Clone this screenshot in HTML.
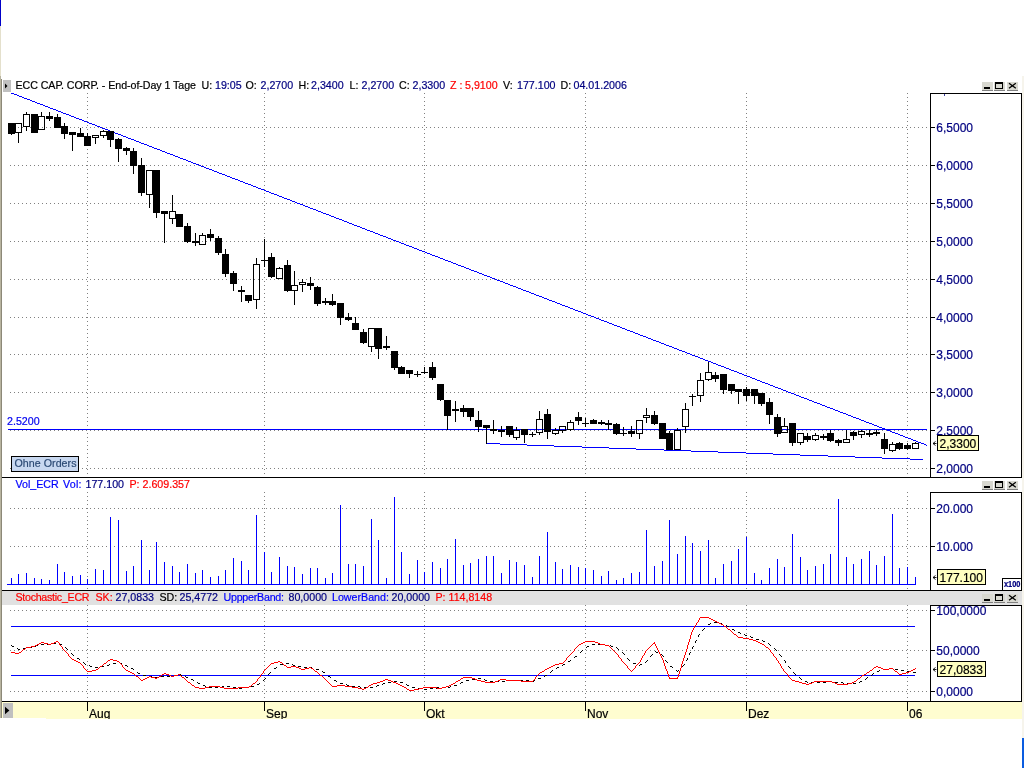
<!DOCTYPE html>
<html lang="de"><head><meta charset="utf-8"><title>ECC CAP. CORP. Chart</title>
<style>
html,body{margin:0;padding:0;background:#fff;width:1024px;height:768px;overflow:hidden}
svg{display:block;font-family:"Liberation Sans", Arial, sans-serif;}
text{white-space:pre;stroke:currentColor;stroke-width:0.2px}
</style></head><body>
<svg width="1024" height="768" viewBox="0 0 1024 768">
<rect x="0" y="0" width="1024" height="768" fill="#fff" />
<rect x="0" y="0" width="1" height="26" fill="#0000c8" />
<rect x="0" y="26" width="1" height="50" fill="#e4e0cc" />
<rect x="0" y="76" width="1" height="642" fill="#b8b4a0" />
<rect x="1" y="79" width="1" height="639" fill="#8c8878" />
<rect x="1022" y="76" width="2" height="662" fill="#f6f4ec" />
<rect x="1022" y="738" width="2" height="30" fill="#0a5ce0" />
<rect x="2" y="591" width="1020" height="14" fill="#e1e1e1" />
<rect x="2" y="702" width="1020" height="16" fill="#fffdd0" />
<rect x="46" y="718" width="976" height="1" fill="#fffdd0" />
<line x1="10" y1="127.5" x2="930" y2="127.5" stroke="#808080" stroke-width="1" stroke-dasharray="1 3"/>
<line x1="10" y1="165.5" x2="930" y2="165.5" stroke="#808080" stroke-width="1" stroke-dasharray="1 3"/>
<line x1="10" y1="203.5" x2="930" y2="203.5" stroke="#808080" stroke-width="1" stroke-dasharray="1 3"/>
<line x1="10" y1="241.5" x2="930" y2="241.5" stroke="#808080" stroke-width="1" stroke-dasharray="1 3"/>
<line x1="10" y1="279.5" x2="930" y2="279.5" stroke="#808080" stroke-width="1" stroke-dasharray="1 3"/>
<line x1="10" y1="317.5" x2="930" y2="317.5" stroke="#808080" stroke-width="1" stroke-dasharray="1 3"/>
<line x1="10" y1="354.5" x2="930" y2="354.5" stroke="#808080" stroke-width="1" stroke-dasharray="1 3"/>
<line x1="10" y1="392.5" x2="930" y2="392.5" stroke="#808080" stroke-width="1" stroke-dasharray="1 3"/>
<line x1="10" y1="430.5" x2="930" y2="430.5" stroke="#808080" stroke-width="1" stroke-dasharray="1 3"/>
<line x1="10" y1="468.5" x2="930" y2="468.5" stroke="#808080" stroke-width="1" stroke-dasharray="1 3"/>
<line x1="87.5" y1="93" x2="87.5" y2="475" stroke="#808080" stroke-width="1" stroke-dasharray="1 3"/>
<line x1="87.5" y1="492" x2="87.5" y2="589" stroke="#808080" stroke-width="1" stroke-dasharray="1 3"/>
<line x1="87.5" y1="605" x2="87.5" y2="700" stroke="#808080" stroke-width="1" stroke-dasharray="1 3"/>
<line x1="264.5" y1="93" x2="264.5" y2="475" stroke="#808080" stroke-width="1" stroke-dasharray="1 3"/>
<line x1="264.5" y1="492" x2="264.5" y2="589" stroke="#808080" stroke-width="1" stroke-dasharray="1 3"/>
<line x1="264.5" y1="605" x2="264.5" y2="700" stroke="#808080" stroke-width="1" stroke-dasharray="1 3"/>
<line x1="424.5" y1="93" x2="424.5" y2="475" stroke="#808080" stroke-width="1" stroke-dasharray="1 3"/>
<line x1="424.5" y1="492" x2="424.5" y2="589" stroke="#808080" stroke-width="1" stroke-dasharray="1 3"/>
<line x1="424.5" y1="605" x2="424.5" y2="700" stroke="#808080" stroke-width="1" stroke-dasharray="1 3"/>
<line x1="585.5" y1="93" x2="585.5" y2="475" stroke="#808080" stroke-width="1" stroke-dasharray="1 3"/>
<line x1="585.5" y1="492" x2="585.5" y2="589" stroke="#808080" stroke-width="1" stroke-dasharray="1 3"/>
<line x1="585.5" y1="605" x2="585.5" y2="700" stroke="#808080" stroke-width="1" stroke-dasharray="1 3"/>
<line x1="746.5" y1="93" x2="746.5" y2="475" stroke="#808080" stroke-width="1" stroke-dasharray="1 3"/>
<line x1="746.5" y1="492" x2="746.5" y2="589" stroke="#808080" stroke-width="1" stroke-dasharray="1 3"/>
<line x1="746.5" y1="605" x2="746.5" y2="700" stroke="#808080" stroke-width="1" stroke-dasharray="1 3"/>
<line x1="907.5" y1="93" x2="907.5" y2="475" stroke="#808080" stroke-width="1" stroke-dasharray="1 3"/>
<line x1="907.5" y1="492" x2="907.5" y2="589" stroke="#808080" stroke-width="1" stroke-dasharray="1 3"/>
<line x1="907.5" y1="605" x2="907.5" y2="700" stroke="#808080" stroke-width="1" stroke-dasharray="1 3"/>
<line x1="10" y1="508.5" x2="930" y2="508.5" stroke="#808080" stroke-width="1" stroke-dasharray="1 3"/>
<line x1="10" y1="546.5" x2="930" y2="546.5" stroke="#808080" stroke-width="1" stroke-dasharray="1 3"/>
<line x1="10" y1="610.5" x2="930" y2="610.5" stroke="#808080" stroke-width="1" stroke-dasharray="1 3"/>
<line x1="10" y1="650.5" x2="930" y2="650.5" stroke="#808080" stroke-width="1" stroke-dasharray="1 3"/>
<line x1="10" y1="691.5" x2="930" y2="691.5" stroke="#808080" stroke-width="1" stroke-dasharray="1 3"/>
<rect x="2" y="477" width="1020" height="1" fill="#000" />
<rect x="2" y="590" width="1020" height="1" fill="#000" />
<rect x="2" y="701" width="1020" height="1" fill="#000" />
<rect x="930" y="93" width="1" height="384" fill="#000" />
<rect x="1021" y="93" width="1" height="385" fill="#000" />
<rect x="930" y="93" width="92" height="1" fill="#000" />
<rect x="930" y="492" width="1" height="98" fill="#000" />
<rect x="1021" y="492" width="1" height="99" fill="#000" />
<rect x="930" y="492" width="92" height="1" fill="#000" />
<rect x="930" y="605" width="1" height="96" fill="#000" />
<rect x="1021" y="605" width="1" height="97" fill="#000" />
<rect x="930" y="605" width="92" height="1" fill="#000" />
<path d="M11 93h3v1h-3zM14 94h3v1h-3zM17 95h2v1h-2zM19 96h3v1h-3zM22 97h2v1h-2zM24 98h3v1h-3zM27 99h3v1h-3zM30 100h2v1h-2zM32 101h3v1h-3zM35 102h2v1h-2zM37 103h3v1h-3zM40 104h3v1h-3zM43 105h2v1h-2zM45 106h3v1h-3zM48 107h2v1h-2zM50 108h3v1h-3zM53 109h3v1h-3zM56 110h2v1h-2zM58 111h3v1h-3zM61 112h2v1h-2zM63 113h3v1h-3zM66 114h3v1h-3zM69 115h2v1h-2zM71 116h3v1h-3zM74 117h2v1h-2zM76 118h3v1h-3zM79 119h3v1h-3zM82 120h2v1h-2zM84 121h3v1h-3zM87 122h2v1h-2zM89 123h3v1h-3zM92 124h3v1h-3zM95 125h2v1h-2zM97 126h3v1h-3zM100 127h2v1h-2zM102 128h3v1h-3zM105 129h3v1h-3zM108 130h2v1h-2zM110 131h3v1h-3zM113 132h2v1h-2zM115 133h3v1h-3zM118 134h3v1h-3zM121 135h2v1h-2zM123 136h3v1h-3zM126 137h2v1h-2zM128 138h3v1h-3zM131 139h3v1h-3zM134 140h2v1h-2zM136 141h3v1h-3zM139 142h2v1h-2zM141 143h3v1h-3zM144 144h3v1h-3zM147 145h2v1h-2zM149 146h3v1h-3zM152 147h2v1h-2zM154 148h3v1h-3zM157 149h3v1h-3zM160 150h2v1h-2zM162 151h3v1h-3zM165 152h2v1h-2zM167 153h3v1h-3zM170 154h3v1h-3zM173 155h2v1h-2zM175 156h3v1h-3zM178 157h2v1h-2zM180 158h3v1h-3zM183 159h3v1h-3zM186 160h2v1h-2zM188 161h3v1h-3zM191 162h2v1h-2zM193 163h3v1h-3zM196 164h3v1h-3zM199 165h2v1h-2zM201 166h3v1h-3zM204 167h2v1h-2zM206 168h3v1h-3zM209 169h3v1h-3zM212 170h2v1h-2zM214 171h3v1h-3zM217 172h2v1h-2zM219 173h3v1h-3zM222 174h3v1h-3zM225 175h2v1h-2zM227 176h3v1h-3zM230 177h2v1h-2zM232 178h3v1h-3zM235 179h3v1h-3zM238 180h2v1h-2zM240 181h3v1h-3zM243 182h2v1h-2zM245 183h3v1h-3zM248 184h3v1h-3zM251 185h2v1h-2zM253 186h3v1h-3zM256 187h2v1h-2zM258 188h3v1h-3zM261 189h3v1h-3zM264 190h2v1h-2zM266 191h3v1h-3zM269 192h2v1h-2zM271 193h3v1h-3zM274 194h3v1h-3zM277 195h2v1h-2zM279 196h3v1h-3zM282 197h2v1h-2zM284 198h3v1h-3zM287 199h3v1h-3zM290 200h2v1h-2zM292 201h3v1h-3zM295 202h2v1h-2zM297 203h3v1h-3zM300 204h3v1h-3zM303 205h2v1h-2zM305 206h3v1h-3zM308 207h2v1h-2zM310 208h3v1h-3zM313 209h3v1h-3zM316 210h2v1h-2zM318 211h3v1h-3zM321 212h2v1h-2zM323 213h3v1h-3zM326 214h3v1h-3zM329 215h2v1h-2zM331 216h3v1h-3zM334 217h2v1h-2zM336 218h3v1h-3zM339 219h3v1h-3zM342 220h2v1h-2zM344 221h3v1h-3zM347 222h2v1h-2zM349 223h3v1h-3zM352 224h2v1h-2zM354 225h3v1h-3zM357 226h3v1h-3zM360 227h2v1h-2zM362 228h3v1h-3zM365 229h2v1h-2zM367 230h3v1h-3zM370 231h3v1h-3zM373 232h2v1h-2zM375 233h3v1h-3zM378 234h2v1h-2zM380 235h3v1h-3zM383 236h3v1h-3zM386 237h2v1h-2zM388 238h3v1h-3zM391 239h2v1h-2zM393 240h3v1h-3zM396 241h3v1h-3zM399 242h2v1h-2zM401 243h3v1h-3zM404 244h2v1h-2zM406 245h3v1h-3zM409 246h3v1h-3zM412 247h2v1h-2zM414 248h3v1h-3zM417 249h2v1h-2zM419 250h3v1h-3zM422 251h3v1h-3zM425 252h2v1h-2zM427 253h3v1h-3zM430 254h2v1h-2zM432 255h3v1h-3zM435 256h3v1h-3zM438 257h2v1h-2zM440 258h3v1h-3zM443 259h2v1h-2zM445 260h3v1h-3zM448 261h3v1h-3zM451 262h2v1h-2zM453 263h3v1h-3zM456 264h2v1h-2zM458 265h3v1h-3zM461 266h3v1h-3zM464 267h2v1h-2zM466 268h3v1h-3zM469 269h2v1h-2zM471 270h3v1h-3zM474 271h3v1h-3zM477 272h2v1h-2zM479 273h3v1h-3zM482 274h2v1h-2zM484 275h3v1h-3zM487 276h3v1h-3zM490 277h2v1h-2zM492 278h3v1h-3zM495 279h2v1h-2zM497 280h3v1h-3zM500 281h3v1h-3zM503 282h2v1h-2zM505 283h3v1h-3zM508 284h2v1h-2zM510 285h3v1h-3zM513 286h3v1h-3zM516 287h2v1h-2zM518 288h3v1h-3zM521 289h2v1h-2zM523 290h3v1h-3zM526 291h3v1h-3zM529 292h2v1h-2zM531 293h3v1h-3zM534 294h2v1h-2zM536 295h3v1h-3zM539 296h3v1h-3zM542 297h2v1h-2zM544 298h3v1h-3zM547 299h2v1h-2zM549 300h3v1h-3zM552 301h3v1h-3zM555 302h2v1h-2zM557 303h3v1h-3zM560 304h2v1h-2zM562 305h3v1h-3zM565 306h3v1h-3zM568 307h2v1h-2zM570 308h3v1h-3zM573 309h2v1h-2zM575 310h3v1h-3zM578 311h3v1h-3zM581 312h2v1h-2zM583 313h3v1h-3zM586 314h2v1h-2zM588 315h3v1h-3zM591 316h3v1h-3zM594 317h2v1h-2zM596 318h3v1h-3zM599 319h2v1h-2zM601 320h3v1h-3zM604 321h3v1h-3zM607 322h2v1h-2zM609 323h3v1h-3zM612 324h2v1h-2zM614 325h3v1h-3zM617 326h3v1h-3zM620 327h2v1h-2zM622 328h3v1h-3zM625 329h2v1h-2zM627 330h3v1h-3zM630 331h3v1h-3zM633 332h2v1h-2zM635 333h3v1h-3zM638 334h2v1h-2zM640 335h3v1h-3zM643 336h3v1h-3zM646 337h2v1h-2zM648 338h3v1h-3zM651 339h2v1h-2zM653 340h3v1h-3zM656 341h3v1h-3zM659 342h2v1h-2zM661 343h3v1h-3zM664 344h2v1h-2zM666 345h3v1h-3zM669 346h3v1h-3zM672 347h2v1h-2zM674 348h3v1h-3zM677 349h2v1h-2zM679 350h3v1h-3zM682 351h3v1h-3zM685 352h2v1h-2zM687 353h3v1h-3zM690 354h2v1h-2zM692 355h3v1h-3zM695 356h3v1h-3zM698 357h2v1h-2zM700 358h3v1h-3zM703 359h2v1h-2zM705 360h3v1h-3zM708 361h3v1h-3zM711 362h2v1h-2zM713 363h3v1h-3zM716 364h2v1h-2zM718 365h3v1h-3zM721 366h3v1h-3zM724 367h2v1h-2zM726 368h3v1h-3zM729 369h2v1h-2zM731 370h3v1h-3zM734 371h3v1h-3zM737 372h2v1h-2zM739 373h3v1h-3zM742 374h2v1h-2zM744 375h3v1h-3zM747 376h3v1h-3zM750 377h2v1h-2zM752 378h3v1h-3zM755 379h2v1h-2zM757 380h3v1h-3zM760 381h2v1h-2zM762 382h3v1h-3zM765 383h3v1h-3zM768 384h2v1h-2zM770 385h3v1h-3zM773 386h2v1h-2zM775 387h3v1h-3zM778 388h3v1h-3zM781 389h2v1h-2zM783 390h3v1h-3zM786 391h2v1h-2zM788 392h3v1h-3zM791 393h3v1h-3zM794 394h2v1h-2zM796 395h3v1h-3zM799 396h2v1h-2zM801 397h3v1h-3zM804 398h3v1h-3zM807 399h2v1h-2zM809 400h3v1h-3zM812 401h2v1h-2zM814 402h3v1h-3zM817 403h3v1h-3zM820 404h2v1h-2zM822 405h3v1h-3zM825 406h2v1h-2zM827 407h3v1h-3zM830 408h3v1h-3zM833 409h2v1h-2zM835 410h3v1h-3zM838 411h2v1h-2zM840 412h3v1h-3zM843 413h3v1h-3zM846 414h2v1h-2zM848 415h3v1h-3zM851 416h2v1h-2zM853 417h3v1h-3zM856 418h3v1h-3zM859 419h2v1h-2zM861 420h3v1h-3zM864 421h2v1h-2zM866 422h3v1h-3zM869 423h3v1h-3zM872 424h2v1h-2zM874 425h3v1h-3zM877 426h2v1h-2zM879 427h3v1h-3zM882 428h3v1h-3zM885 429h2v1h-2zM887 430h3v1h-3zM890 431h2v1h-2zM892 432h3v1h-3zM895 433h3v1h-3zM898 434h2v1h-2zM900 435h3v1h-3zM903 436h2v1h-2zM905 437h3v1h-3zM908 438h3v1h-3zM911 439h2v1h-2zM913 440h3v1h-3zM916 441h2v1h-2zM918 442h3v1h-3zM921 443h3v1h-3zM924 444h2v1h-2zM926 445h1v1h-1z" fill="#0000ff" shape-rendering="crispEdges"/>
<path d="M486 443h14v1h-14zM500 444h27v1h-27zM527 445h27v1h-27zM554 446h28v1h-28zM582 447h27v1h-27zM609 448h27v1h-27zM636 449h28v1h-28zM664 450h27v1h-27zM691 451h27v1h-27zM718 452h28v1h-28zM746 453h27v1h-27zM773 454h27v1h-27zM800 455h28v1h-28zM828 456h27v1h-27zM855 457h27v1h-27zM882 458h28v1h-28zM910 459h13v1h-13z" fill="#0000ff" shape-rendering="crispEdges"/>
<rect x="8" y="429" width="919" height="1" fill="#0000ff" />
<g shape-rendering="crispEdges">
<rect x="11" y="123" width="1" height="12" fill="#000" />
<rect x="8" y="123" width="7" height="11" fill="#000" />
<rect x="18" y="133" width="1" height="10" fill="#000" />
<rect x="15.5" y="123.5" width="6" height="9" fill="none" stroke="#000" stroke-width="1"/>
<rect x="26" y="112" width="1" height="2" fill="#000" />
<rect x="26" y="127" width="1" height="4" fill="#000" />
<rect x="23.5" y="114.5" width="6" height="12" fill="none" stroke="#000" stroke-width="1"/>
<rect x="34" y="114" width="1" height="19" fill="#000" />
<rect x="31" y="114" width="7" height="19" fill="#000" />
<rect x="41" y="112" width="1" height="4" fill="#000" />
<rect x="38.5" y="116.5" width="6" height="13" fill="none" stroke="#000" stroke-width="1"/>
<rect x="49" y="112" width="1" height="9" fill="#000" />
<rect x="46" y="116" width="7" height="3" fill="#000" />
<rect x="57" y="114" width="1" height="14" fill="#000" />
<rect x="54" y="117" width="7" height="11" fill="#000" />
<rect x="64" y="123" width="1" height="16" fill="#000" />
<rect x="61" y="126" width="7" height="8" fill="#000" />
<rect x="72" y="132" width="1" height="19" fill="#000" />
<rect x="69" y="132" width="7" height="3" fill="#000" />
<rect x="80" y="128" width="1" height="9" fill="#000" />
<rect x="77" y="133" width="7" height="4" fill="#000" />
<rect x="87" y="133" width="1" height="13" fill="#000" />
<rect x="84" y="136" width="7" height="10" fill="#000" />
<rect x="95" y="138" width="1" height="6" fill="#000" />
<rect x="92.5" y="135.5" width="6" height="2" fill="none" stroke="#000" stroke-width="1"/>
<rect x="103" y="130" width="1" height="1" fill="#000" />
<rect x="103" y="136" width="1" height="2" fill="#000" />
<rect x="100.5" y="131.5" width="6" height="4" fill="none" stroke="#000" stroke-width="1"/>
<rect x="110" y="131" width="1" height="16" fill="#000" />
<rect x="107" y="131" width="7" height="9" fill="#000" />
<rect x="118" y="138" width="1" height="24" fill="#000" />
<rect x="115" y="139" width="7" height="10" fill="#000" />
<rect x="126" y="147" width="1" height="8" fill="#000" />
<rect x="123" y="148" width="7" height="3" fill="#000" />
<rect x="133" y="148" width="1" height="26" fill="#000" />
<rect x="130" y="151" width="7" height="15" fill="#000" />
<rect x="141" y="158" width="1" height="38" fill="#000" />
<rect x="138" y="165" width="7" height="28" fill="#000" />
<rect x="149" y="195" width="1" height="13" fill="#000" />
<rect x="146.5" y="170.5" width="6" height="24" fill="none" stroke="#000" stroke-width="1"/>
<rect x="156" y="170" width="1" height="48" fill="#000" />
<rect x="153" y="170" width="7" height="43" fill="#000" />
<rect x="164" y="211" width="1" height="32" fill="#000" />
<rect x="161" y="211" width="7" height="3" fill="#000" />
<rect x="172" y="195" width="1" height="16" fill="#000" />
<rect x="172" y="219" width="1" height="5" fill="#000" />
<rect x="169.5" y="211.5" width="6" height="7" fill="none" stroke="#000" stroke-width="1"/>
<rect x="179" y="214" width="1" height="13" fill="#000" />
<rect x="176" y="214" width="7" height="13" fill="#000" />
<rect x="187" y="223" width="1" height="20" fill="#000" />
<rect x="184" y="226" width="7" height="16" fill="#000" />
<rect x="195" y="233" width="1" height="13" fill="#000" />
<rect x="192" y="241" width="7" height="2" fill="#000" />
<rect x="202" y="233" width="1" height="2" fill="#000" />
<rect x="199.5" y="235.5" width="6" height="9" fill="none" stroke="#000" stroke-width="1"/>
<rect x="210" y="229" width="1" height="12" fill="#000" />
<rect x="207" y="234" width="7" height="4" fill="#000" />
<rect x="218" y="236" width="1" height="19" fill="#000" />
<rect x="215" y="238" width="7" height="15" fill="#000" />
<rect x="225" y="249" width="1" height="28" fill="#000" />
<rect x="222" y="254" width="7" height="20" fill="#000" />
<rect x="233" y="271" width="1" height="20" fill="#000" />
<rect x="230" y="273" width="7" height="11" fill="#000" />
<rect x="241" y="286" width="1" height="16" fill="#000" />
<rect x="238" y="290" width="7" height="2" fill="#000" />
<rect x="248" y="295" width="1" height="8" fill="#000" />
<rect x="245" y="295" width="7" height="6" fill="#000" />
<rect x="256" y="258" width="1" height="6" fill="#000" />
<rect x="256" y="300" width="1" height="9" fill="#000" />
<rect x="253.5" y="264.5" width="6" height="35" fill="none" stroke="#000" stroke-width="1"/>
<rect x="264" y="239" width="1" height="28" fill="#000" />
<rect x="261" y="260" width="7" height="1" fill="#000" />
<rect x="271" y="253" width="1" height="25" fill="#000" />
<rect x="268" y="257" width="7" height="20" fill="#000" />
<rect x="279" y="267" width="1" height="1" fill="#000" />
<rect x="276.5" y="268.5" width="6" height="10" fill="none" stroke="#000" stroke-width="1"/>
<rect x="287" y="260" width="1" height="32" fill="#000" />
<rect x="284" y="265" width="7" height="26" fill="#000" />
<rect x="294" y="271" width="1" height="14" fill="#000" />
<rect x="294" y="291" width="1" height="14" fill="#000" />
<rect x="291.5" y="285.5" width="6" height="5" fill="none" stroke="#000" stroke-width="1"/>
<rect x="302" y="279" width="1" height="3" fill="#000" />
<rect x="302" y="285" width="1" height="7" fill="#000" />
<rect x="299.5" y="282.5" width="6" height="2" fill="none" stroke="#000" stroke-width="1"/>
<rect x="310" y="277" width="1" height="13" fill="#000" />
<rect x="307" y="283" width="7" height="3" fill="#000" />
<rect x="317" y="286" width="1" height="20" fill="#000" />
<rect x="314" y="287" width="7" height="17" fill="#000" />
<rect x="325" y="298" width="1" height="7" fill="#000" />
<rect x="322" y="301" width="7" height="2" fill="#000" />
<rect x="332" y="294" width="1" height="12" fill="#000" />
<rect x="329" y="301" width="7" height="4" fill="#000" />
<rect x="340" y="303" width="1" height="22" fill="#000" />
<rect x="337" y="303" width="7" height="15" fill="#000" />
<rect x="348" y="313" width="1" height="8" fill="#000" />
<rect x="345" y="317" width="7" height="3" fill="#000" />
<rect x="355" y="317" width="1" height="13" fill="#000" />
<rect x="352" y="323" width="7" height="7" fill="#000" />
<rect x="363" y="329" width="1" height="15" fill="#000" />
<rect x="360" y="332" width="7" height="11" fill="#000" />
<rect x="371" y="347" width="1" height="5" fill="#000" />
<rect x="368.5" y="328.5" width="6" height="18" fill="none" stroke="#000" stroke-width="1"/>
<rect x="378" y="328" width="1" height="31" fill="#000" />
<rect x="375" y="328" width="7" height="21" fill="#000" />
<rect x="386" y="336" width="1" height="14" fill="#000" />
<rect x="383" y="346" width="7" height="2" fill="#000" />
<rect x="394" y="351" width="1" height="19" fill="#000" />
<rect x="391" y="351" width="7" height="17" fill="#000" />
<rect x="401" y="366" width="1" height="8" fill="#000" />
<rect x="398" y="367" width="7" height="7" fill="#000" />
<rect x="409" y="370" width="1" height="8" fill="#000" />
<rect x="406" y="370" width="7" height="4" fill="#000" />
<rect x="417" y="371" width="1" height="6" fill="#000" />
<rect x="414" y="374" width="7" height="1" fill="#000" />
<rect x="424" y="367" width="1" height="7" fill="#000" />
<rect x="421" y="372" width="7" height="1" fill="#000" />
<rect x="432" y="362" width="1" height="18" fill="#000" />
<rect x="429" y="367" width="7" height="11" fill="#000" />
<rect x="440" y="384" width="1" height="17" fill="#000" />
<rect x="437" y="384" width="7" height="16" fill="#000" />
<rect x="447" y="400" width="1" height="30" fill="#000" />
<rect x="444" y="400" width="7" height="16" fill="#000" />
<rect x="455" y="401" width="1" height="21" fill="#000" />
<rect x="452" y="409" width="7" height="2" fill="#000" />
<rect x="463" y="405" width="1" height="12" fill="#000" />
<rect x="460" y="408" width="7" height="4" fill="#000" />
<rect x="470" y="408" width="1" height="13" fill="#000" />
<rect x="467" y="408" width="7" height="9" fill="#000" />
<rect x="478" y="411" width="1" height="21" fill="#000" />
<rect x="475" y="420" width="7" height="7" fill="#000" />
<rect x="486" y="425" width="1" height="19" fill="#000" />
<rect x="483" y="425" width="7" height="3" fill="#000" />
<rect x="493" y="420" width="1" height="14" fill="#000" />
<rect x="490" y="429" width="7" height="2" fill="#000" />
<rect x="501" y="426" width="1" height="11" fill="#000" />
<rect x="498" y="430" width="7" height="2" fill="#000" />
<rect x="509" y="426" width="1" height="11" fill="#000" />
<rect x="506" y="426" width="7" height="9" fill="#000" />
<rect x="516" y="427" width="1" height="3" fill="#000" />
<rect x="516" y="438" width="1" height="2" fill="#000" />
<rect x="513.5" y="430.5" width="6" height="7" fill="none" stroke="#000" stroke-width="1"/>
<rect x="524" y="429" width="1" height="14" fill="#000" />
<rect x="521" y="429" width="7" height="6" fill="#000" />
<rect x="532" y="432" width="1" height="5" fill="#000" />
<rect x="529" y="434" width="7" height="1" fill="#000" />
<rect x="539" y="411" width="1" height="8" fill="#000" />
<rect x="539" y="433" width="1" height="2" fill="#000" />
<rect x="536.5" y="419.5" width="6" height="13" fill="none" stroke="#000" stroke-width="1"/>
<rect x="547" y="409" width="1" height="30" fill="#000" />
<rect x="544" y="414" width="7" height="18" fill="#000" />
<rect x="555" y="428" width="1" height="2" fill="#000" />
<rect x="555" y="434" width="1" height="1" fill="#000" />
<rect x="552.5" y="430.5" width="6" height="3" fill="none" stroke="#000" stroke-width="1"/>
<rect x="562" y="431" width="1" height="2" fill="#000" />
<rect x="559.5" y="426.5" width="6" height="4" fill="none" stroke="#000" stroke-width="1"/>
<rect x="570" y="420" width="1" height="2" fill="#000" />
<rect x="570" y="430" width="1" height="1" fill="#000" />
<rect x="567.5" y="422.5" width="6" height="7" fill="none" stroke="#000" stroke-width="1"/>
<rect x="578" y="412" width="1" height="13" fill="#000" />
<rect x="575" y="417" width="7" height="4" fill="#000" />
<rect x="585" y="418" width="1" height="9" fill="#000" />
<rect x="582" y="423" width="7" height="1" fill="#000" />
<rect x="593" y="419" width="1" height="5" fill="#000" />
<rect x="590" y="420" width="7" height="4" fill="#000" />
<rect x="601" y="420" width="1" height="5" fill="#000" />
<rect x="598" y="422" width="7" height="2" fill="#000" />
<rect x="608" y="420" width="1" height="10" fill="#000" />
<rect x="605" y="423" width="7" height="2" fill="#000" />
<rect x="616" y="423" width="1" height="12" fill="#000" />
<rect x="613" y="424" width="7" height="10" fill="#000" />
<rect x="623" y="427" width="1" height="9" fill="#000" />
<rect x="620" y="433" width="7" height="1" fill="#000" />
<rect x="631" y="426" width="1" height="11" fill="#000" />
<rect x="628" y="431" width="7" height="3" fill="#000" />
<rect x="639" y="434" width="1" height="5" fill="#000" />
<rect x="636.5" y="420.5" width="6" height="13" fill="none" stroke="#000" stroke-width="1"/>
<rect x="646" y="408" width="1" height="7" fill="#000" />
<rect x="646" y="418" width="1" height="5" fill="#000" />
<rect x="643.5" y="415.5" width="6" height="2" fill="none" stroke="#000" stroke-width="1"/>
<rect x="654" y="411" width="1" height="14" fill="#000" />
<rect x="651" y="415" width="7" height="9" fill="#000" />
<rect x="662" y="423" width="1" height="16" fill="#000" />
<rect x="659" y="423" width="7" height="16" fill="#000" />
<rect x="669" y="431" width="1" height="19" fill="#000" />
<rect x="666" y="433" width="7" height="17" fill="#000" />
<rect x="677" y="428" width="1" height="2" fill="#000" />
<rect x="674.5" y="430.5" width="6" height="19" fill="none" stroke="#000" stroke-width="1"/>
<rect x="685" y="403" width="1" height="6" fill="#000" />
<rect x="685" y="427" width="1" height="6" fill="#000" />
<rect x="682.5" y="409.5" width="6" height="17" fill="none" stroke="#000" stroke-width="1"/>
<rect x="692" y="394" width="1" height="12" fill="#000" />
<rect x="689" y="396" width="7" height="1" fill="#000" />
<rect x="700" y="373" width="1" height="7" fill="#000" />
<rect x="700" y="396" width="1" height="6" fill="#000" />
<rect x="697.5" y="380.5" width="6" height="15" fill="none" stroke="#000" stroke-width="1"/>
<rect x="708" y="362" width="1" height="10" fill="#000" />
<rect x="708" y="380" width="1" height="1" fill="#000" />
<rect x="705.5" y="372.5" width="6" height="7" fill="none" stroke="#000" stroke-width="1"/>
<rect x="715" y="372" width="1" height="10" fill="#000" />
<rect x="712" y="375" width="7" height="4" fill="#000" />
<rect x="723" y="374" width="1" height="20" fill="#000" />
<rect x="720" y="374" width="7" height="16" fill="#000" />
<rect x="731" y="384" width="1" height="10" fill="#000" />
<rect x="728" y="384" width="7" height="7" fill="#000" />
<rect x="738" y="389" width="1" height="15" fill="#000" />
<rect x="735" y="389" width="7" height="3" fill="#000" />
<rect x="746" y="387" width="1" height="14" fill="#000" />
<rect x="743" y="389" width="7" height="7" fill="#000" />
<rect x="754" y="389" width="1" height="15" fill="#000" />
<rect x="751" y="389" width="7" height="7" fill="#000" />
<rect x="761" y="393" width="1" height="13" fill="#000" />
<rect x="758" y="393" width="7" height="11" fill="#000" />
<rect x="769" y="398" width="1" height="26" fill="#000" />
<rect x="766" y="402" width="7" height="13" fill="#000" />
<rect x="777" y="414" width="1" height="23" fill="#000" />
<rect x="774" y="417" width="7" height="17" fill="#000" />
<rect x="784" y="418" width="1" height="8" fill="#000" />
<rect x="781.5" y="426.5" width="6" height="6" fill="none" stroke="#000" stroke-width="1"/>
<rect x="792" y="423" width="1" height="23" fill="#000" />
<rect x="789" y="423" width="7" height="20" fill="#000" />
<rect x="800" y="443" width="1" height="2" fill="#000" />
<rect x="797.5" y="433.5" width="6" height="9" fill="none" stroke="#000" stroke-width="1"/>
<rect x="807" y="433" width="1" height="9" fill="#000" />
<rect x="804" y="436" width="7" height="4" fill="#000" />
<rect x="815" y="433" width="1" height="2" fill="#000" />
<rect x="815" y="440" width="1" height="1" fill="#000" />
<rect x="812.5" y="435.5" width="6" height="4" fill="none" stroke="#000" stroke-width="1"/>
<rect x="823" y="434" width="1" height="6" fill="#000" />
<rect x="820" y="436" width="7" height="2" fill="#000" />
<rect x="830" y="430" width="1" height="12" fill="#000" />
<rect x="827" y="433" width="7" height="8" fill="#000" />
<rect x="838" y="439" width="1" height="7" fill="#000" />
<rect x="835" y="440" width="7" height="3" fill="#000" />
<rect x="846" y="430" width="1" height="9" fill="#000" />
<rect x="843.5" y="439.5" width="6" height="3" fill="none" stroke="#000" stroke-width="1"/>
<rect x="853" y="431" width="1" height="9" fill="#000" />
<rect x="850" y="432" width="7" height="4" fill="#000" />
<rect x="861" y="430" width="1" height="1" fill="#000" />
<rect x="861" y="435" width="1" height="3" fill="#000" />
<rect x="858.5" y="431.5" width="6" height="3" fill="none" stroke="#000" stroke-width="1"/>
<rect x="869" y="430" width="1" height="7" fill="#000" />
<rect x="866" y="433" width="7" height="2" fill="#000" />
<rect x="876" y="430" width="1" height="6" fill="#000" />
<rect x="873" y="432" width="7" height="2" fill="#000" />
<rect x="884" y="433" width="1" height="21" fill="#000" />
<rect x="881" y="439" width="7" height="10" fill="#000" />
<rect x="892" y="442" width="1" height="2" fill="#000" />
<rect x="892" y="451" width="1" height="1" fill="#000" />
<rect x="889.5" y="444.5" width="6" height="6" fill="none" stroke="#000" stroke-width="1"/>
<rect x="899" y="442" width="1" height="8" fill="#000" />
<rect x="896" y="443" width="7" height="6" fill="#000" />
<rect x="907" y="443" width="1" height="7" fill="#000" />
<rect x="904" y="445" width="7" height="4" fill="#000" />
<rect x="915" y="442" width="1" height="1" fill="#000" />
<rect x="912.5" y="443.5" width="6" height="5" fill="none" stroke="#000" stroke-width="1"/>
</g>
<g shape-rendering="crispEdges">
<rect x="11" y="578" width="1" height="6" fill="#0000ff" />
<rect x="18" y="574" width="1" height="10" fill="#0000ff" />
<rect x="26" y="573" width="1" height="11" fill="#0000ff" />
<rect x="34" y="578" width="1" height="6" fill="#0000ff" />
<rect x="41" y="579" width="1" height="5" fill="#0000ff" />
<rect x="49" y="580" width="1" height="4" fill="#0000ff" />
<rect x="57" y="564" width="1" height="20" fill="#0000ff" />
<rect x="64" y="572" width="1" height="12" fill="#0000ff" />
<rect x="72" y="576" width="1" height="8" fill="#0000ff" />
<rect x="80" y="575" width="1" height="9" fill="#0000ff" />
<rect x="87" y="579" width="1" height="5" fill="#0000ff" />
<rect x="95" y="569" width="1" height="15" fill="#0000ff" />
<rect x="103" y="570" width="1" height="14" fill="#0000ff" />
<rect x="110" y="517" width="1" height="67" fill="#0000ff" />
<rect x="118" y="520" width="1" height="64" fill="#0000ff" />
<rect x="126" y="571" width="1" height="13" fill="#0000ff" />
<rect x="133" y="566" width="1" height="18" fill="#0000ff" />
<rect x="141" y="540" width="1" height="44" fill="#0000ff" />
<rect x="149" y="570" width="1" height="14" fill="#0000ff" />
<rect x="156" y="542" width="1" height="42" fill="#0000ff" />
<rect x="164" y="562" width="1" height="22" fill="#0000ff" />
<rect x="172" y="566" width="1" height="18" fill="#0000ff" />
<rect x="179" y="572" width="1" height="12" fill="#0000ff" />
<rect x="187" y="564" width="1" height="20" fill="#0000ff" />
<rect x="195" y="573" width="1" height="11" fill="#0000ff" />
<rect x="202" y="570" width="1" height="14" fill="#0000ff" />
<rect x="210" y="577" width="1" height="7" fill="#0000ff" />
<rect x="218" y="576" width="1" height="8" fill="#0000ff" />
<rect x="225" y="570" width="1" height="14" fill="#0000ff" />
<rect x="233" y="558" width="1" height="26" fill="#0000ff" />
<rect x="241" y="561" width="1" height="23" fill="#0000ff" />
<rect x="248" y="570" width="1" height="14" fill="#0000ff" />
<rect x="256" y="515" width="1" height="69" fill="#0000ff" />
<rect x="264" y="552" width="1" height="32" fill="#0000ff" />
<rect x="271" y="572" width="1" height="12" fill="#0000ff" />
<rect x="279" y="557" width="1" height="27" fill="#0000ff" />
<rect x="287" y="566" width="1" height="18" fill="#0000ff" />
<rect x="294" y="567" width="1" height="17" fill="#0000ff" />
<rect x="302" y="574" width="1" height="10" fill="#0000ff" />
<rect x="310" y="568" width="1" height="16" fill="#0000ff" />
<rect x="317" y="568" width="1" height="16" fill="#0000ff" />
<rect x="325" y="578" width="1" height="6" fill="#0000ff" />
<rect x="332" y="573" width="1" height="11" fill="#0000ff" />
<rect x="340" y="505" width="1" height="79" fill="#0000ff" />
<rect x="348" y="564" width="1" height="20" fill="#0000ff" />
<rect x="355" y="564" width="1" height="20" fill="#0000ff" />
<rect x="363" y="566" width="1" height="18" fill="#0000ff" />
<rect x="371" y="519" width="1" height="65" fill="#0000ff" />
<rect x="378" y="540" width="1" height="44" fill="#0000ff" />
<rect x="386" y="578" width="1" height="6" fill="#0000ff" />
<rect x="394" y="497" width="1" height="87" fill="#0000ff" />
<rect x="401" y="552" width="1" height="32" fill="#0000ff" />
<rect x="409" y="574" width="1" height="10" fill="#0000ff" />
<rect x="417" y="560" width="1" height="24" fill="#0000ff" />
<rect x="424" y="572" width="1" height="12" fill="#0000ff" />
<rect x="432" y="562" width="1" height="22" fill="#0000ff" />
<rect x="440" y="568" width="1" height="16" fill="#0000ff" />
<rect x="447" y="559" width="1" height="25" fill="#0000ff" />
<rect x="455" y="539" width="1" height="45" fill="#0000ff" />
<rect x="463" y="565" width="1" height="19" fill="#0000ff" />
<rect x="470" y="563" width="1" height="21" fill="#0000ff" />
<rect x="478" y="559" width="1" height="25" fill="#0000ff" />
<rect x="486" y="556" width="1" height="28" fill="#0000ff" />
<rect x="493" y="556" width="1" height="28" fill="#0000ff" />
<rect x="501" y="573" width="1" height="11" fill="#0000ff" />
<rect x="509" y="560" width="1" height="24" fill="#0000ff" />
<rect x="516" y="562" width="1" height="22" fill="#0000ff" />
<rect x="524" y="565" width="1" height="19" fill="#0000ff" />
<rect x="532" y="577" width="1" height="7" fill="#0000ff" />
<rect x="539" y="556" width="1" height="28" fill="#0000ff" />
<rect x="547" y="532" width="1" height="52" fill="#0000ff" />
<rect x="555" y="562" width="1" height="22" fill="#0000ff" />
<rect x="562" y="569" width="1" height="15" fill="#0000ff" />
<rect x="570" y="565" width="1" height="19" fill="#0000ff" />
<rect x="578" y="567" width="1" height="17" fill="#0000ff" />
<rect x="585" y="568" width="1" height="16" fill="#0000ff" />
<rect x="593" y="570" width="1" height="14" fill="#0000ff" />
<rect x="601" y="576" width="1" height="8" fill="#0000ff" />
<rect x="608" y="571" width="1" height="13" fill="#0000ff" />
<rect x="616" y="580" width="1" height="4" fill="#0000ff" />
<rect x="623" y="578" width="1" height="6" fill="#0000ff" />
<rect x="631" y="573" width="1" height="11" fill="#0000ff" />
<rect x="639" y="572" width="1" height="12" fill="#0000ff" />
<rect x="646" y="530" width="1" height="54" fill="#0000ff" />
<rect x="654" y="566" width="1" height="18" fill="#0000ff" />
<rect x="662" y="561" width="1" height="23" fill="#0000ff" />
<rect x="669" y="520" width="1" height="64" fill="#0000ff" />
<rect x="677" y="554" width="1" height="30" fill="#0000ff" />
<rect x="685" y="536" width="1" height="48" fill="#0000ff" />
<rect x="692" y="543" width="1" height="41" fill="#0000ff" />
<rect x="700" y="551" width="1" height="33" fill="#0000ff" />
<rect x="708" y="540" width="1" height="44" fill="#0000ff" />
<rect x="715" y="578" width="1" height="6" fill="#0000ff" />
<rect x="723" y="564" width="1" height="20" fill="#0000ff" />
<rect x="731" y="561" width="1" height="23" fill="#0000ff" />
<rect x="738" y="549" width="1" height="35" fill="#0000ff" />
<rect x="746" y="537" width="1" height="47" fill="#0000ff" />
<rect x="754" y="573" width="1" height="11" fill="#0000ff" />
<rect x="761" y="580" width="1" height="4" fill="#0000ff" />
<rect x="769" y="568" width="1" height="16" fill="#0000ff" />
<rect x="777" y="559" width="1" height="25" fill="#0000ff" />
<rect x="784" y="567" width="1" height="17" fill="#0000ff" />
<rect x="792" y="534" width="1" height="50" fill="#0000ff" />
<rect x="800" y="557" width="1" height="27" fill="#0000ff" />
<rect x="807" y="570" width="1" height="14" fill="#0000ff" />
<rect x="815" y="566" width="1" height="18" fill="#0000ff" />
<rect x="823" y="564" width="1" height="20" fill="#0000ff" />
<rect x="830" y="554" width="1" height="30" fill="#0000ff" />
<rect x="838" y="499" width="1" height="85" fill="#0000ff" />
<rect x="846" y="557" width="1" height="27" fill="#0000ff" />
<rect x="853" y="564" width="1" height="20" fill="#0000ff" />
<rect x="861" y="559" width="1" height="25" fill="#0000ff" />
<rect x="869" y="551" width="1" height="33" fill="#0000ff" />
<rect x="876" y="565" width="1" height="19" fill="#0000ff" />
<rect x="884" y="556" width="1" height="28" fill="#0000ff" />
<rect x="892" y="514" width="1" height="70" fill="#0000ff" />
<rect x="899" y="568" width="1" height="16" fill="#0000ff" />
<rect x="907" y="567" width="1" height="17" fill="#0000ff" />
<rect x="915" y="577" width="1" height="7" fill="#0000ff" />
<rect x="7" y="584" width="909" height="1" fill="#0000ff" />
</g>
<rect x="11" y="626" width="904" height="1" fill="#0000ff" />
<rect x="11" y="675" width="904" height="1" fill="#0000ff" />
<path d="M714 622h3v1h-3zM710 623h1v1h-1zM720 623h2v1h-2zM708 624h2v1h-2zM722 624h1v1h-1zM726 625h1v1h-1zM727 626h2v1h-2zM704 628h1v1h-1zM703 629h1v1h-1zM732 629h2v1h-2zM702 630h1v1h-1zM734 630h1v1h-1zM738 632h2v1h-2zM740 633h1v1h-1zM699 634h1v1h-1zM744 634h1v1h-1zM698 635h1v2h-1zM745 635h2v1h-2zM750 636h1v1h-1zM751 637h2v1h-2zM756 639h3v1h-3zM696 640h1v1h-1zM762 640h1v1h-1zM695 641h1v2h-1zM763 641h2v1h-2zM53 643h3v1h-3zM59 643h1v1h-1zM768 643h1v1h-1zM41 644h3v1h-3zM47 644h3v1h-3zM60 644h2v1h-2zM592 644h3v1h-3zM598 644h3v1h-3zM604 644h1v1h-1zM769 644h1v1h-1zM11 645h1v1h-1zM36 645h2v1h-2zM605 645h2v1h-2zM610 645h1v1h-1zM770 645h1v1h-1zM12 646h2v1h-2zM35 646h1v1h-1zM587 646h2v1h-2zM611 646h2v1h-2zM693 646h1v1h-1zM29 647h3v1h-3zM65 647h1v1h-1zM586 647h1v1h-1zM616 647h1v1h-1zM692 647h1v2h-1zM17 648h1v1h-1zM23 648h3v1h-3zM66 648h1v1h-1zM617 648h1v1h-1zM774 648h1v1h-1zM18 649h2v1h-2zM67 649h1v1h-1zM618 649h1v1h-1zM775 649h1v1h-1zM582 650h1v1h-1zM776 650h1v1h-1zM581 651h1v1h-1zM655 651h1v1h-1zM580 652h1v1h-1zM622 652h1v1h-1zM656 652h2v1h-2zM690 652h1v1h-1zM71 653h1v1h-1zM623 653h1v1h-1zM689 653h1v2h-1zM72 654h1v1h-1zM624 654h1v1h-1zM652 654h1v1h-1zM661 654h1v1h-1zM779 654h1v1h-1zM73 655h1v1h-1zM651 655h1v1h-1zM662 655h1v1h-1zM780 655h1v1h-1zM575 656h2v1h-2zM650 656h1v1h-1zM663 656h1v1h-1zM781 656h1v1h-1zM574 657h1v1h-1zM77 658h2v1h-2zM627 658h1v1h-1zM687 658h1v2h-1zM79 659h1v1h-1zM628 659h1v1h-1zM570 660h1v1h-1zM629 660h1v1h-1zM647 660h1v1h-1zM665 660h1v1h-1zM686 660h1v1h-1zM784 660h1v1h-1zM568 661h2v1h-2zM646 661h1v1h-1zM666 661h1v1h-1zM785 661h1v2h-1zM83 662h1v1h-1zM119 662h1v1h-1zM645 662h1v1h-1zM667 662h1v1h-1zM84 663h1v1h-1zM113 663h3v1h-3zM120 663h2v1h-2zM286 663h3v1h-3zM633 663h3v1h-3zM85 664h1v1h-1zM109 664h1v1h-1zM280 664h3v1h-3zM292 664h1v1h-1zM563 664h2v1h-2zM640 664h2v1h-2zM684 664h1v1h-1zM89 665h1v1h-1zM107 665h2v1h-2zM125 665h2v1h-2zM293 665h2v1h-2zM562 665h1v1h-1zM639 665h1v1h-1zM683 665h1v1h-1zM90 666h2v1h-2zM101 666h3v1h-3zM127 666h1v1h-1zM298 666h3v1h-3zM670 666h2v1h-2zM682 666h1v1h-1zM788 666h1v1h-1zM95 667h3v1h-3zM276 667h1v1h-1zM304 667h3v1h-3zM310 667h2v1h-2zM557 667h2v1h-2zM672 667h1v1h-1zM789 667h1v1h-1zM131 668h2v1h-2zM274 668h2v1h-2zM312 668h1v1h-1zM556 668h1v1h-1zM790 668h1v1h-1zM889 668h3v1h-3zM133 669h1v1h-1zM316 669h3v1h-3zM883 669h3v1h-3zM895 669h3v1h-3zM552 670h1v1h-1zM676 670h1v1h-1zM678 670h1v1h-1zM879 670h1v1h-1zM901 670h3v1h-3zM322 671h1v1h-1zM551 671h1v1h-1zM677 671h1v1h-1zM877 671h2v1h-2zM907 671h3v1h-3zM137 672h1v1h-1zM270 672h1v1h-1zM323 672h2v1h-2zM550 672h1v1h-1zM793 672h1v1h-1zM913 672h3v1h-3zM138 673h2v1h-2zM269 673h1v1h-1zM794 673h1v1h-1zM873 673h1v1h-1zM179 674h2v1h-2zM268 674h1v1h-1zM795 674h1v1h-1zM872 674h1v1h-1zM143 675h3v1h-3zM174 675h2v1h-2zM181 675h1v1h-1zM545 675h2v1h-2zM871 675h1v1h-1zM149 676h3v1h-3zM161 676h3v1h-3zM167 676h3v1h-3zM173 676h1v1h-1zM185 676h1v1h-1zM328 676h2v1h-2zM544 676h1v1h-1zM155 677h3v1h-3zM186 677h2v1h-2zM330 677h1v1h-1zM799 677h1v1h-1zM867 677h1v1h-1zM265 678h1v1h-1zM478 678h3v1h-3zM538 678h3v1h-3zM800 678h1v1h-1zM866 678h1v1h-1zM191 679h2v1h-2zM264 679h1v1h-1zM472 679h3v1h-3zM484 679h1v1h-1zM801 679h1v1h-1zM865 679h1v1h-1zM193 680h1v1h-1zM263 680h1v1h-1zM334 680h2v1h-2zM466 680h3v1h-3zM485 680h2v1h-2zM508 680h3v1h-3zM514 680h3v1h-3zM520 680h3v1h-3zM526 680h3v1h-3zM534 680h1v1h-1zM336 681h1v1h-1zM394 681h3v1h-3zM490 681h3v1h-3zM496 681h3v1h-3zM502 681h3v1h-3zM532 681h2v1h-2zM805 681h2v1h-2zM829 681h3v1h-3zM860 681h2v1h-2zM197 682h1v1h-1zM388 682h3v1h-3zM400 682h3v1h-3zM461 682h2v1h-2zM807 682h1v1h-1zM811 682h3v1h-3zM817 682h3v1h-3zM823 682h3v1h-3zM835 682h3v1h-3zM841 682h2v1h-2zM859 682h1v1h-1zM198 683h2v1h-2zM259 683h1v1h-1zM340 683h3v1h-3zM383 683h2v1h-2zM460 683h1v1h-1zM843 683h1v1h-1zM847 683h3v1h-3zM853 683h3v1h-3zM257 684h2v1h-2zM346 684h1v1h-1zM382 684h1v1h-1zM406 684h1v1h-1zM203 685h2v1h-2zM347 685h2v1h-2zM377 685h2v1h-2zM407 685h2v1h-2zM454 685h3v1h-3zM205 686h1v1h-1zM222 686h2v1h-2zM227 686h3v1h-3zM251 686h3v1h-3zM352 686h3v1h-3zM358 686h2v1h-2zM376 686h1v1h-1zM450 686h1v1h-1zM209 687h3v1h-3zM215 687h3v1h-3zM221 687h1v1h-1zM233 687h3v1h-3zM245 687h3v1h-3zM360 687h1v1h-1zM364 687h3v1h-3zM370 687h3v1h-3zM412 687h3v1h-3zM437 687h2v1h-2zM442 687h3v1h-3zM448 687h2v1h-2zM239 688h3v1h-3zM418 688h3v1h-3zM430 688h3v1h-3zM436 688h1v1h-1zM424 689h3v1h-3z" fill="#000" shape-rendering="crispEdges"/>
<path d="M700 617h9v1h-9zM699 618h1v2h-1zM709 618h2v1h-2zM711 619h2v1h-2zM698 620h1v2h-1zM713 620h2v1h-2zM715 621h2v1h-2zM697 622h1v1h-1zM717 622h2v1h-2zM696 623h1v2h-1zM719 623h2v1h-2zM721 624h2v1h-2zM695 625h1v1h-1zM723 625h1v1h-1zM694 626h1v2h-1zM724 626h2v1h-2zM726 627h1v1h-1zM693 628h1v2h-1zM727 628h1v1h-1zM728 629h2v1h-2zM692 630h1v2h-1zM730 630h1v1h-1zM731 631h1v1h-1zM691 632h1v3h-1zM732 632h1v1h-1zM733 633h1v1h-1zM734 634h2v1h-2zM690 635h1v4h-1zM736 635h1v1h-1zM737 636h1v1h-1zM738 637h5v1h-5zM743 638h6v1h-6zM689 639h1v3h-1zM749 639h4v1h-4zM753 640h3v1h-3zM56 641h2v1h-2zM585 641h10v1h-10zM756 641h2v1h-2zM41 642h3v1h-3zM54 642h2v1h-2zM58 642h1v1h-1zM583 642h2v1h-2zM595 642h3v1h-3zM654 642h1v2h-1zM688 642h1v3h-1zM758 642h2v1h-2zM39 643h2v1h-2zM44 643h4v1h-4zM51 643h3v1h-3zM59 643h1v2h-1zM581 643h2v1h-2zM598 643h2v1h-2zM653 643h1v1h-1zM760 643h2v1h-2zM37 644h2v1h-2zM48 644h3v1h-3zM579 644h2v1h-2zM600 644h5v1h-5zM652 644h1v1h-1zM655 644h1v2h-1zM762 644h2v1h-2zM35 645h2v1h-2zM60 645h1v1h-1zM578 645h1v1h-1zM605 645h4v1h-4zM651 645h1v1h-1zM687 645h1v4h-1zM764 645h1v1h-1zM31 646h4v1h-4zM61 646h1v1h-1zM577 646h1v1h-1zM609 646h1v1h-1zM650 646h1v1h-1zM656 646h1v2h-1zM765 646h1v1h-1zM26 647h5v1h-5zM62 647h1v2h-1zM576 647h1v1h-1zM610 647h1v1h-1zM649 647h1v1h-1zM766 647h2v1h-2zM25 648h1v1h-1zM575 648h1v1h-1zM611 648h1v1h-1zM648 648h1v1h-1zM657 648h1v2h-1zM768 648h1v1h-1zM23 649h2v1h-2zM63 649h1v1h-1zM574 649h1v2h-1zM612 649h1v1h-1zM647 649h1v1h-1zM686 649h1v3h-1zM769 649h1v1h-1zM22 650h1v1h-1zM64 650h1v1h-1zM613 650h1v1h-1zM646 650h1v1h-1zM658 650h1v2h-1zM770 650h1v2h-1zM21 651h1v1h-1zM65 651h1v1h-1zM573 651h1v1h-1zM614 651h1v1h-1zM645 651h1v2h-1zM11 652h4v1h-4zM19 652h2v1h-2zM66 652h1v1h-1zM572 652h1v1h-1zM615 652h1v1h-1zM659 652h1v2h-1zM685 652h1v3h-1zM771 652h1v1h-1zM15 653h4v1h-4zM67 653h1v1h-1zM571 653h1v1h-1zM616 653h1v1h-1zM644 653h1v2h-1zM772 653h1v1h-1zM68 654h1v2h-1zM570 654h1v1h-1zM617 654h1v1h-1zM660 654h1v2h-1zM773 654h1v2h-1zM569 655h1v1h-1zM618 655h1v2h-1zM643 655h1v1h-1zM684 655h1v3h-1zM69 656h1v1h-1zM568 656h1v1h-1zM642 656h1v2h-1zM661 656h1v2h-1zM774 656h1v1h-1zM70 657h1v1h-1zM567 657h1v1h-1zM619 657h1v1h-1zM775 657h1v1h-1zM71 658h1v1h-1zM566 658h1v2h-1zM620 658h1v1h-1zM641 658h1v2h-1zM662 658h1v2h-1zM683 658h1v3h-1zM776 658h1v2h-1zM72 659h2v1h-2zM110 659h3v1h-3zM621 659h1v2h-1zM74 660h2v1h-2zM108 660h2v1h-2zM113 660h4v1h-4zM565 660h1v1h-1zM640 660h1v2h-1zM663 660h1v3h-1zM777 660h1v1h-1zM76 661h2v1h-2zM107 661h1v1h-1zM117 661h2v1h-2zM278 661h2v1h-2zM564 661h1v1h-1zM622 661h1v1h-1zM682 661h1v3h-1zM778 661h1v2h-1zM78 662h2v1h-2zM106 662h1v1h-1zM119 662h1v1h-1zM274 662h4v1h-4zM280 662h2v1h-2zM563 662h1v1h-1zM623 662h1v1h-1zM639 662h1v1h-1zM80 663h1v1h-1zM104 663h2v1h-2zM120 663h1v1h-1zM271 663h3v1h-3zM282 663h1v1h-1zM559 663h4v1h-4zM624 663h1v1h-1zM638 663h1v1h-1zM664 663h1v3h-1zM779 663h1v1h-1zM81 664h1v1h-1zM103 664h1v1h-1zM121 664h1v1h-1zM270 664h1v1h-1zM283 664h1v1h-1zM555 664h4v1h-4zM625 664h1v1h-1zM637 664h1v1h-1zM681 664h1v4h-1zM780 664h1v2h-1zM82 665h1v1h-1zM102 665h1v1h-1zM122 665h1v2h-1zM269 665h1v1h-1zM284 665h2v1h-2zM553 665h2v1h-2zM626 665h1v1h-1zM636 665h1v1h-1zM83 666h1v2h-1zM100 666h2v1h-2zM268 666h1v1h-1zM286 666h1v1h-1zM291 666h5v1h-5zM551 666h2v1h-2zM627 666h1v2h-1zM635 666h1v2h-1zM665 666h1v3h-1zM781 666h1v2h-1zM876 666h2v1h-2zM99 667h1v1h-1zM123 667h1v1h-1zM267 667h1v1h-1zM287 667h4v1h-4zM296 667h3v1h-3zM309 667h2v1h-2zM549 667h2v1h-2zM874 667h2v1h-2zM878 667h3v1h-3zM84 668h1v1h-1zM98 668h1v1h-1zM124 668h1v1h-1zM266 668h1v1h-1zM299 668h2v1h-2zM305 668h4v1h-4zM311 668h2v1h-2zM547 668h2v1h-2zM628 668h1v1h-1zM634 668h1v1h-1zM680 668h1v3h-1zM782 668h1v1h-1zM873 668h1v1h-1zM881 668h2v1h-2zM889 668h4v1h-4zM915 668h1v1h-1zM85 669h1v1h-1zM96 669h2v1h-2zM125 669h1v1h-1zM265 669h1v1h-1zM301 669h4v1h-4zM313 669h1v1h-1zM545 669h2v1h-2zM629 669h1v1h-1zM633 669h1v1h-1zM666 669h1v2h-1zM783 669h1v2h-1zM872 669h1v1h-1zM883 669h6v1h-6zM893 669h1v1h-1zM913 669h2v1h-2zM86 670h1v1h-1zM92 670h4v1h-4zM126 670h2v1h-2zM264 670h1v1h-1zM314 670h1v1h-1zM544 670h1v1h-1zM630 670h1v1h-1zM632 670h1v1h-1zM870 670h2v1h-2zM894 670h1v1h-1zM911 670h2v1h-2zM87 671h5v1h-5zM128 671h2v1h-2zM263 671h1v2h-1zM315 671h2v1h-2zM542 671h2v1h-2zM631 671h1v1h-1zM667 671h1v3h-1zM679 671h1v3h-1zM784 671h1v1h-1zM869 671h1v1h-1zM895 671h2v1h-2zM909 671h2v1h-2zM130 672h2v1h-2zM317 672h1v1h-1zM540 672h2v1h-2zM785 672h1v1h-1zM867 672h2v1h-2zM897 672h1v1h-1zM906 672h3v1h-3zM132 673h2v1h-2zM164 673h2v1h-2zM262 673h1v1h-1zM318 673h1v1h-1zM539 673h1v1h-1zM786 673h1v1h-1zM866 673h1v1h-1zM898 673h1v1h-1zM902 673h4v1h-4zM134 674h1v1h-1zM162 674h2v1h-2zM166 674h3v1h-3zM178 674h2v1h-2zM261 674h1v1h-1zM319 674h1v1h-1zM538 674h1v1h-1zM668 674h1v3h-1zM678 674h1v3h-1zM787 674h1v1h-1zM864 674h2v1h-2zM899 674h3v1h-3zM135 675h1v1h-1zM161 675h1v1h-1zM169 675h2v1h-2zM174 675h4v1h-4zM180 675h1v1h-1zM260 675h1v2h-1zM320 675h2v1h-2zM537 675h1v1h-1zM788 675h1v2h-1zM862 675h2v1h-2zM136 676h2v1h-2zM149 676h2v1h-2zM159 676h2v1h-2zM171 676h3v1h-3zM181 676h1v1h-1zM322 676h1v1h-1zM536 676h1v1h-1zM861 676h1v1h-1zM138 677h1v1h-1zM147 677h2v1h-2zM151 677h4v1h-4zM157 677h2v1h-2zM182 677h2v1h-2zM259 677h1v1h-1zM323 677h1v1h-1zM463 677h9v1h-9zM535 677h1v2h-1zM669 677h1v2h-1zM677 677h1v2h-1zM789 677h1v1h-1zM860 677h1v1h-1zM139 678h1v1h-1zM145 678h2v1h-2zM155 678h2v1h-2zM184 678h1v1h-1zM258 678h1v1h-1zM324 678h1v1h-1zM461 678h2v1h-2zM472 678h3v1h-3zM670 678h7v1h-7zM790 678h1v1h-1zM858 678h2v1h-2zM140 679h1v1h-1zM143 679h2v1h-2zM185 679h1v1h-1zM257 679h1v2h-1zM325 679h1v1h-1zM385 679h3v1h-3zM460 679h1v1h-1zM475 679h2v1h-2zM500 679h6v1h-6zM534 679h1v1h-1zM791 679h1v1h-1zM857 679h1v1h-1zM141 680h2v1h-2zM186 680h1v1h-1zM326 680h1v1h-1zM383 680h2v1h-2zM388 680h3v1h-3zM458 680h2v1h-2zM477 680h4v1h-4zM498 680h2v1h-2zM506 680h15v1h-15zM533 680h1v1h-1zM792 680h3v1h-3zM856 680h1v1h-1zM187 681h1v1h-1zM256 681h1v1h-1zM327 681h1v1h-1zM380 681h3v1h-3zM391 681h2v1h-2zM456 681h2v1h-2zM481 681h4v1h-4zM495 681h3v1h-3zM521 681h12v1h-12zM795 681h4v1h-4zM814 681h18v1h-18zM854 681h2v1h-2zM188 682h2v1h-2zM255 682h1v1h-1zM328 682h1v1h-1zM377 682h3v1h-3zM393 682h3v1h-3zM455 682h1v1h-1zM485 682h10v1h-10zM799 682h3v1h-3zM812 682h2v1h-2zM832 682h3v1h-3zM852 682h2v1h-2zM190 683h1v1h-1zM253 683h2v1h-2zM329 683h1v1h-1zM373 683h4v1h-4zM396 683h2v1h-2zM453 683h2v1h-2zM802 683h4v1h-4zM809 683h3v1h-3zM835 683h2v1h-2zM848 683h4v1h-4zM191 684h1v1h-1zM252 684h1v1h-1zM330 684h1v1h-1zM371 684h2v1h-2zM398 684h2v1h-2zM451 684h2v1h-2zM806 684h3v1h-3zM837 684h11v1h-11zM192 685h2v1h-2zM251 685h1v1h-1zM331 685h1v1h-1zM337 685h8v1h-8zM369 685h2v1h-2zM400 685h2v1h-2zM449 685h2v1h-2zM194 686h1v1h-1zM209 686h11v1h-11zM249 686h2v1h-2zM332 686h5v1h-5zM345 686h7v1h-7zM368 686h1v1h-1zM402 686h2v1h-2zM446 686h3v1h-3zM195 687h4v1h-4zM205 687h4v1h-4zM220 687h4v1h-4zM238 687h11v1h-11zM352 687h6v1h-6zM366 687h2v1h-2zM404 687h2v1h-2zM423 687h14v1h-14zM442 687h4v1h-4zM199 688h6v1h-6zM224 688h14v1h-14zM358 688h4v1h-4zM364 688h2v1h-2zM406 688h1v1h-1zM419 688h4v1h-4zM437 688h5v1h-5zM362 689h2v1h-2zM407 689h2v1h-2zM414 689h5v1h-5zM409 690h5v1h-5z" fill="#ff0000" shape-rendering="crispEdges"/>
<rect x="944" y="94" width="1" height="2" fill="#4040a0" />
<rect x="930" y="127" width="5" height="1" fill="#000" />
<text x="936.3" y="131.8" font-size="12" fill="#000080" color="#000080" text-anchor="start" >6,5000</text>
<rect x="930" y="165" width="5" height="1" fill="#000" />
<text x="936.3" y="169.8" font-size="12" fill="#000080" color="#000080" text-anchor="start" >6,0000</text>
<rect x="930" y="203" width="5" height="1" fill="#000" />
<text x="936.3" y="207.8" font-size="12" fill="#000080" color="#000080" text-anchor="start" >5,5000</text>
<rect x="930" y="241" width="5" height="1" fill="#000" />
<text x="936.3" y="245.8" font-size="12" fill="#000080" color="#000080" text-anchor="start" >5,0000</text>
<rect x="930" y="279" width="5" height="1" fill="#000" />
<text x="936.3" y="283.8" font-size="12" fill="#000080" color="#000080" text-anchor="start" >4,5000</text>
<rect x="930" y="317" width="5" height="1" fill="#000" />
<text x="936.3" y="321.8" font-size="12" fill="#000080" color="#000080" text-anchor="start" >4,0000</text>
<rect x="930" y="354" width="5" height="1" fill="#000" />
<text x="936.3" y="358.8" font-size="12" fill="#000080" color="#000080" text-anchor="start" >3,5000</text>
<rect x="930" y="392" width="5" height="1" fill="#000" />
<text x="936.3" y="396.8" font-size="12" fill="#000080" color="#000080" text-anchor="start" >3,0000</text>
<rect x="930" y="430" width="5" height="1" fill="#000" />
<text x="936.3" y="434.8" font-size="12" fill="#000080" color="#000080" text-anchor="start" >2,5000</text>
<rect x="930" y="468" width="5" height="1" fill="#000" />
<text x="936.3" y="472.8" font-size="12" fill="#000080" color="#000080" text-anchor="start" >2,0000</text>
<rect x="930" y="508" width="5" height="1" fill="#000" />
<text x="936.3" y="512.8" font-size="12" fill="#000080" color="#000080" text-anchor="start" >20.000</text>
<rect x="930" y="546" width="5" height="1" fill="#000" />
<text x="936.3" y="550.8" font-size="12" fill="#000080" color="#000080" text-anchor="start" >10.000</text>
<rect x="930" y="610" width="5" height="1" fill="#000" />
<text x="936.3" y="614.8" font-size="12" fill="#000080" color="#000080" text-anchor="start" >100,0000</text>
<rect x="930" y="650" width="5" height="1" fill="#000" />
<text x="936.3" y="654.8" font-size="12" fill="#000080" color="#000080" text-anchor="start" >50,0000</text>
<rect x="930" y="691" width="5" height="1" fill="#000" />
<text x="936.3" y="695.8" font-size="12" fill="#000080" color="#000080" text-anchor="start" >0,0000</text>
<rect x="937.5" y="435.5" width="41" height="15" fill="#ffffc0" stroke="#000" stroke-width="1"/>
<text x="939.6" y="447.6" font-size="12" fill="#000" color="#000" text-anchor="start" >2,3300</text>
<path d="M935.5 441.5 L933 443.5 L935.5 445.5 M933 443.5 L936.5 443.5" fill="none" stroke="#000" stroke-width="0.9"/>
<rect x="937.5" y="569.5" width="48" height="15" fill="#ffffc0" stroke="#000" stroke-width="1"/>
<text x="939.6" y="581.6" font-size="12" fill="#000" color="#000" text-anchor="start" >177.100</text>
<path d="M935.5 575.5 L933 577.5 L935.5 579.5 M933 577.5 L936.5 577.5" fill="none" stroke="#000" stroke-width="0.9"/>
<rect x="937.5" y="661.5" width="48" height="15" fill="#ffffc0" stroke="#000" stroke-width="1"/>
<text x="939.6" y="673.6" font-size="12" fill="#000" color="#000" text-anchor="start" >27,0833</text>
<path d="M935.5 667.5 L933 669.5 L935.5 671.5 M933 669.5 L936.5 669.5" fill="none" stroke="#000" stroke-width="0.9"/>
<rect x="1002.5" y="578.5" width="19" height="12" fill="#fff" stroke="#000" stroke-width="1"/>
<text x="1004" y="587" font-size="8.5" fill="#000080" color="#000080" text-anchor="start" textLength="16.5" lengthAdjust="spacingAndGlyphs" font-weight="bold">x100</text>
<rect x="982" y="82" width="11" height="8" fill="#d8d8d0" />
<rect x="982" y="90" width="11" height="1" fill="#808080" />
<rect x="994" y="82" width="11" height="8" fill="#d8d8d0" />
<rect x="994" y="90" width="11" height="1" fill="#808080" />
<rect x="1007" y="82" width="11" height="8" fill="#d8d8d0" />
<rect x="1007" y="90" width="11" height="1" fill="#808080" />
<rect x="984" y="87" width="6" height="2" fill="#000" />
<rect x="995.5" y="82.5" width="7" height="6" fill="none" stroke="#000" stroke-width="1"/>
<rect x="995" y="82" width="8" height="2" fill="#000" />
<path d="M1009 83.3 L1015.8 88.2 M1015.8 83.3 L1009 88.2" stroke="#000" stroke-width="1.3" fill="none"/>
<rect x="982" y="481" width="11" height="8" fill="#d8d8d0" />
<rect x="982" y="489" width="11" height="1" fill="#808080" />
<rect x="994" y="481" width="11" height="8" fill="#d8d8d0" />
<rect x="994" y="489" width="11" height="1" fill="#808080" />
<rect x="1007" y="481" width="11" height="8" fill="#d8d8d0" />
<rect x="1007" y="489" width="11" height="1" fill="#808080" />
<rect x="984" y="486" width="6" height="2" fill="#000" />
<rect x="995.5" y="481.5" width="7" height="6" fill="none" stroke="#000" stroke-width="1"/>
<rect x="995" y="481" width="8" height="2" fill="#000" />
<path d="M1009 482.3 L1015.8 487.2 M1015.8 482.3 L1009 487.2" stroke="#000" stroke-width="1.3" fill="none"/>
<rect x="982" y="594" width="11" height="8" fill="#d8d8d0" />
<rect x="982" y="602" width="11" height="1" fill="#808080" />
<rect x="994" y="594" width="11" height="8" fill="#d8d8d0" />
<rect x="994" y="602" width="11" height="1" fill="#808080" />
<rect x="1007" y="594" width="11" height="8" fill="#d8d8d0" />
<rect x="1007" y="602" width="11" height="1" fill="#808080" />
<rect x="984" y="599" width="6" height="2" fill="#000" />
<rect x="995.5" y="594.5" width="7" height="6" fill="none" stroke="#000" stroke-width="1"/>
<rect x="995" y="594" width="8" height="2" fill="#000" />
<path d="M1009 595.3 L1015.8 600.2 M1015.8 595.3 L1009 600.2" stroke="#000" stroke-width="1.3" fill="none"/>
<rect x="3" y="80" width="8" height="12" fill="#c0c0c0" />
<path d="M5 83.5 L7.5 86 L5 88.5 Z" fill="#000"/>
<text x="15.5" y="89.3" font-size="10.67" fill="#000" color="#000" text-anchor="start" textLength="180.5" lengthAdjust="spacing">ECC CAP. CORP. - End-of-Day 1 Tage</text>
<text x="201.5" y="89.3" font-size="10.67" fill="#000" color="#000" text-anchor="start" >U:</text>
<text x="215" y="89.3" font-size="10.67" fill="#000080" color="#000080" text-anchor="start" >19:05</text>
<text x="245.5" y="89.3" font-size="10.67" fill="#000" color="#000" text-anchor="start" >O:</text>
<text x="260.5" y="89.3" font-size="10.67" fill="#000080" color="#000080" text-anchor="start" >2,2700</text>
<text x="298.5" y="89.3" font-size="10.67" fill="#000" color="#000" text-anchor="start" >H:</text>
<text x="311" y="89.3" font-size="10.67" fill="#000080" color="#000080" text-anchor="start" >2,3400</text>
<text x="349.5" y="89.3" font-size="10.67" fill="#000" color="#000" text-anchor="start" >L:</text>
<text x="361.5" y="89.3" font-size="10.67" fill="#000080" color="#000080" text-anchor="start" >2,2700</text>
<text x="399" y="89.3" font-size="10.67" fill="#000" color="#000" text-anchor="start" >C:</text>
<text x="412.5" y="89.3" font-size="10.67" fill="#000080" color="#000080" text-anchor="start" >2,3300</text>
<text x="450" y="89.3" font-size="10.67" fill="#ff0000" color="#ff0000" text-anchor="start" >Z :</text>
<text x="465" y="89.3" font-size="10.67" fill="#ff0000" color="#ff0000" text-anchor="start" >5,9100</text>
<text x="503" y="89.3" font-size="10.67" fill="#000" color="#000" text-anchor="start" >V:</text>
<text x="517" y="89.3" font-size="10.67" fill="#000080" color="#000080" text-anchor="start" >177.100</text>
<text x="560.5" y="89.3" font-size="10.67" fill="#000" color="#000" text-anchor="start" >D:</text>
<text x="573.5" y="89.3" font-size="10.67" fill="#000080" color="#000080" text-anchor="start" >04.01.2006</text>
<text x="15.5" y="488.3" font-size="10.67" fill="#0000ff" color="#0000ff" text-anchor="start" >Vol_ECR</text>
<text x="63" y="488.3" font-size="10.67" fill="#0000ff" color="#0000ff" text-anchor="start" textLength="18.5" lengthAdjust="spacing">Vol:</text>
<text x="85.5" y="488.3" font-size="10.67" fill="#000080" color="#000080" text-anchor="start" >177.100</text>
<text x="129.5" y="488.3" font-size="10.67" fill="#ff0000" color="#ff0000" text-anchor="start" >P:</text>
<text x="142.5" y="488.3" font-size="10.67" fill="#ff0000" color="#ff0000" text-anchor="start" >2.609.357</text>
<text x="15.5" y="601.2" font-size="10.67" fill="#ff0000" color="#ff0000" text-anchor="start" textLength="74" lengthAdjust="spacing">Stochastic_ECR</text>
<text x="95.5" y="601.2" font-size="10.67" fill="#ff0000" color="#ff0000" text-anchor="start" >SK:</text>
<text x="115.5" y="601.2" font-size="10.67" fill="#000080" color="#000080" text-anchor="start" >27,0833</text>
<text x="159.5" y="601.2" font-size="10.67" fill="#000" color="#000" text-anchor="start" >SD:</text>
<text x="179.5" y="601.2" font-size="10.67" fill="#000080" color="#000080" text-anchor="start" >25,4772</text>
<text x="223.5" y="601.2" font-size="10.67" fill="#0000ff" color="#0000ff" text-anchor="start" textLength="60.5" lengthAdjust="spacing">UppperBand:</text>
<text x="288.5" y="601.2" font-size="10.67" fill="#000080" color="#000080" text-anchor="start" >80,0000</text>
<text x="332" y="601.2" font-size="10.67" fill="#0000ff" color="#0000ff" text-anchor="start" >LowerBand:</text>
<text x="391.5" y="601.2" font-size="10.67" fill="#000080" color="#000080" text-anchor="start" >20,0000</text>
<text x="435.5" y="601.2" font-size="10.67" fill="#ff0000" color="#ff0000" text-anchor="start" >P:</text>
<text x="448.5" y="601.2" font-size="10.67" fill="#ff0000" color="#ff0000" text-anchor="start" >114,8148</text>
<text x="7" y="425" font-size="10.67" fill="#0000f0" color="#0000f0" text-anchor="start" >2.5200</text>
<rect x="11.5" y="456.5" width="67" height="15" fill="#c8d8f0" stroke="#000" stroke-width="1"/>
<text x="14.5" y="467" font-size="10.67" fill="#2c4a74" color="#2c4a74" text-anchor="start" textLength="62" lengthAdjust="spacing">Ohne Orders</text>
<rect x="3" y="703" width="10" height="15" fill="#c0c0c0" />
<path d="M5 706.7 L9.4 710.5 L5 714.3 Z" fill="#000"/>
<clipPath id="dc"><rect x="0" y="702" width="1024" height="17"/></clipPath>
<g clip-path="url(#dc)">
<rect x="87" y="702" width="1" height="9" fill="#000" />
<text x="89" y="717.5" font-size="12" fill="#000" color="#000" text-anchor="start" >Aug</text>
<rect x="264" y="702" width="1" height="9" fill="#000" />
<text x="266" y="717.5" font-size="12" fill="#000" color="#000" text-anchor="start" >Sep</text>
<rect x="424" y="702" width="1" height="9" fill="#000" />
<text x="426" y="717.5" font-size="12" fill="#000" color="#000" text-anchor="start" >Okt</text>
<rect x="585" y="702" width="1" height="9" fill="#000" />
<text x="587" y="717.5" font-size="12" fill="#000" color="#000" text-anchor="start" >Nov</text>
<rect x="746" y="702" width="1" height="9" fill="#000" />
<text x="748" y="717.5" font-size="12" fill="#000" color="#000" text-anchor="start" >Dez</text>
<rect x="907" y="702" width="1" height="9" fill="#000" />
<text x="909" y="717.5" font-size="12" fill="#000" color="#000" text-anchor="start" >06</text>
</g>
</svg>
</body></html>
